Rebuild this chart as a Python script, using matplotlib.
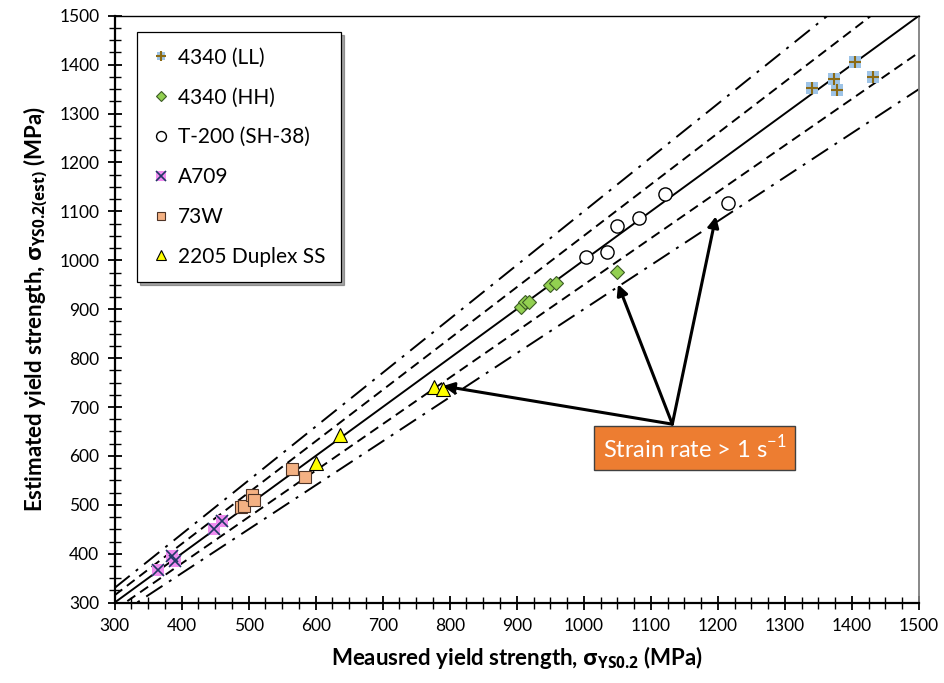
import matplotlib
matplotlib.use("Agg")
import matplotlib.pyplot as plt
from matplotlib.ticker import MultipleLocator
from matplotlib.legend_handler import HandlerTuple

plt.rcParams['font.family'] = ['Lato', 'DejaVu Sans']
plt.rcParams['mathtext.fontset'] = 'custom'
plt.rcParams['mathtext.rm'] = 'Lato'
plt.rcParams['mathtext.bf'] = 'Open Sans:bold'

# measured vs. estimated yield strength (MPa)
ll_meas = [1341, 1373, 1378, 1404, 1432]
ll_est = [1352, 1370, 1348, 1406, 1374]

hh_meas = [906, 912, 918, 949, 958, 1049]
hh_est = [905, 915, 914, 950, 954, 977]

t200_meas = [1003, 1034, 1049, 1082, 1121, 1215]
t200_est = [1007, 1016, 1071, 1086, 1135, 1118]

a709_meas = [365, 386, 390, 449, 460]
a709_est = [366, 396, 386, 450, 467]

w73_meas = [488, 493, 505, 508, 565, 584]
w73_est = [495, 497, 520, 510, 574, 557]

dss_meas = [601, 637, 776, 790]
dss_est = [585, 642, 740, 737]

# 1:1 line with +/-5 % and +/-10 % bands
ref_x = [300, 1500]
band_factors = [1.0, 1.05, 0.95, 1.10, 0.90]
band_styles = ['-', (0, (5, 3)), (0, (5, 3)), (0, (10, 4, 1.5, 4)), (0, (10, 4, 1.5, 4))]

fig = plt.figure(figsize=(9.45, 6.83), dpi=100)
ax = fig.add_axes([0.1212, 0.1176, 0.8513, 0.8594])

for f, ls in zip(band_factors, band_styles):
    ax.plot(ref_x, [f * v for v in ref_x], color='black', lw=1.4, linestyle=ls, zorder=2)

h_ll1, = ax.plot(ll_meas, ll_est, 's', color='#9DC3E6', ms=8, mew=0, zorder=4)
h_ll2, = ax.plot(ll_meas, ll_est, '+', color='#8B6A14', ms=9, mew=1.5, zorder=5)
h_hh, = ax.plot(hh_meas, hh_est, 'D', mfc='#92D050', mec='#3c5a25', ms=7, mew=0.8, zorder=4)
h_t200, = ax.plot(t200_meas, t200_est, 'o', mfc='white', mec='black', ms=9.5, mew=1.0, zorder=4)
h_a1, = ax.plot(a709_meas, a709_est, 's', color='#F08CF0', ms=9, mew=0, zorder=4)
h_a2, = ax.plot(a709_meas, a709_est, 'x', color='#1F3864', ms=9, mew=1.2, zorder=5)
h_w73, = ax.plot(w73_meas, w73_est, 's', mfc='#F4B183', mec='#4d3326', ms=8, mew=0.8, zorder=4)
h_dss, = ax.plot(dss_meas, dss_est, '^', mfc='#FFFF00', mec='black', ms=10, mew=0.8, zorder=4)

ax.set_xlim(300, 1500)
ax.set_ylim(300, 1500)
ax.xaxis.set_major_locator(MultipleLocator(100))
ax.xaxis.set_minor_locator(MultipleLocator(25))
ax.yaxis.set_major_locator(MultipleLocator(100))
ax.yaxis.set_minor_locator(MultipleLocator(25))
ax.tick_params(which='major', direction='inout', length=10, width=1.3, labelsize=12.5, pad=6)
ax.tick_params(which='minor', direction='inout', length=8, width=1.0)

for s in ['left', 'bottom']:
    ax.spines[s].set_linewidth(1.6)
ax.spines['top'].set_linewidth(1.0)
ax.spines['right'].set_color('#7f7f7f')
ax.spines['right'].set_linewidth(1.3)

ax.set_xlabel(r'Meausred yield strength, $\mathbf{\sigma_{YS0.2}}$ (MPa)',
              fontsize=16, fontweight='bold', labelpad=7)
ax.set_ylabel(r'Estimated yield strength, $\mathbf{\sigma_{YS0.2(est)}}$ (MPa)',
              fontsize=16, fontweight='bold', labelpad=7)

leg = ax.legend([(h_ll1, h_ll2), h_hh, h_t200, (h_a1, h_a2), h_w73, h_dss],
                ['4340 (LL)', '4340 (HH)', 'T-200 (SH-38)', 'A709', '73W', '2205 Duplex SS'],
                handler_map={tuple: HandlerTuple(ndivide=1, pad=0)},
                loc='upper left', bbox_to_anchor=(0.028, 0.972), borderaxespad=0,
                fontsize=15, labelspacing=0.95, handlelength=0.8, handletextpad=0.4,
                borderpad=0.75, markerscale=0.75, fancybox=False, shadow=True,
                framealpha=1, edgecolor='black')
leg.get_frame().set_linewidth(0.9)

# annotation for high strain rate tests
box_xy = (1165, 616)
arrow_start = (1132, 665)
targets = [(790, 743), (1051, 951), (1197, 1090)]
for t in targets:
    ax.annotate('', xy=t, xytext=arrow_start,
                arrowprops=dict(arrowstyle='-|>', lw=2.2, color='black',
                                mutation_scale=16, shrinkA=0, shrinkB=0),
                zorder=6)
ax.text(box_xy[0], box_xy[1], r'Strain rate > 1 s$^{-1}$', fontsize=17, color='white',
        ha='center', va='center', zorder=7,
        bbox=dict(boxstyle='square,pad=0.35', facecolor='#ED7D31', edgecolor='#404040', lw=1.0))

fig.savefig('out.png', dpi=100)
